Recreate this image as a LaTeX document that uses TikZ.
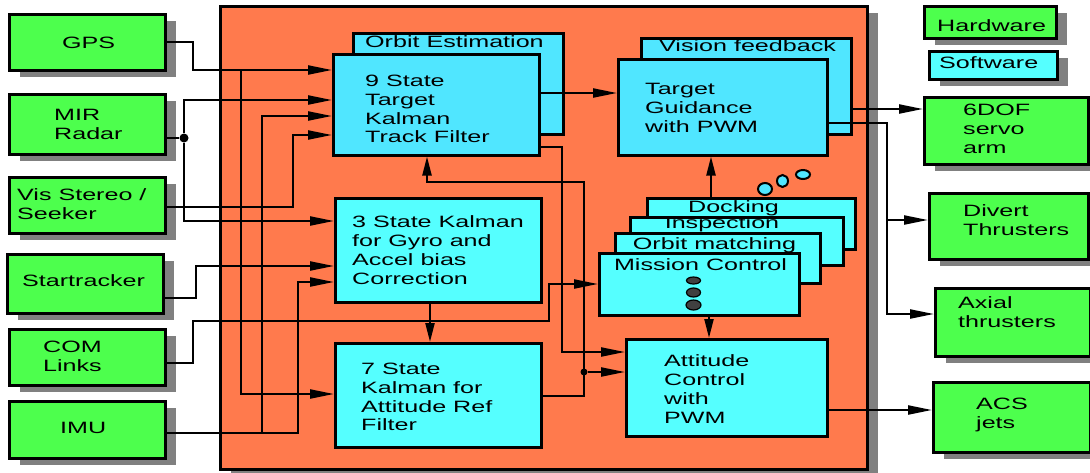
\documentclass[tikz,border=0pt]{standalone}
\usepackage{fontspec}
\setmainfont{Liberation Sans}[FakeStretch=1.53]
\usetikzlibrary{arrows.meta,shadows}
\definecolor{hwgreen}{RGB}{77,255,77}
\definecolor{swcyan}{RGB}{85,255,255}
\definecolor{swblue}{RGB}{80,230,255}
\definecolor{framecol}{RGB}{255,122,77}
\definecolor{shadecol}{RGB}{128,128,128}
\definecolor{dotgray}{RGB}{64,64,64}
\begin{document}
\begin{tikzpicture}[x=1pt,y=-1pt,
  blk/.style={draw=black, line width=2.5pt, inner sep=0pt, anchor=north west},
  dropsh/.style={drop shadow={shadow xshift=11pt, shadow yshift=-7pt, fill=shadecol, opacity=1}},
  hw/.style={blk, fill=hwgreen, dropsh},
  swl/.style={blk, fill=swcyan, dropsh},
  sw/.style={blk, fill=swcyan},
  swb/.style={blk, fill=swblue},
  txt/.style={font=\fontsize{16.4}{18.8}\selectfont, align=left, inner sep=0pt, anchor=west},
  ctxt/.style={txt, anchor=center},
  wire/.style={line width=2.2pt},
  arr/.style={wire, -{Triangle[length=24pt,width=9pt]}},
  arrs/.style={wire, -{Triangle[length=19pt,width=9pt]}},
  jdot/.style={circle, fill=black, inner sep=0pt, minimum size=8pt},
  bubble/.style={draw=black, line width=2pt, fill=swblue},
  pip/.style={draw=black, line width=1.2pt, fill=dotgray}
]
\useasboundingbox (0,0) rectangle (1090,472);
\fill[white] (0,0) rectangle (1090,472);

% on-board processing frame
\node[blk, fill=framecol, dropsh, minimum width=647, minimum height=463] (obc) at (219,5) {};

% sensors
\node[hw, minimum width=156, minimum height=56] (gps) at (8,13) {};
\node[txt] (gpsT) at (62,43) {GPS};
\node[hw, minimum width=156, minimum height=60] (mir) at (8,93) {};
\node[txt] (mirT) at (54,124.5) {MIR\\Radar};
\node[hw, minimum width=156, minimum height=56] (vis) at (8,176) {};
\node[txt] (visT) at (17,204) {Vis Stereo /\\Seeker};
\node[hw, minimum width=156, minimum height=59] (star) at (6,253) {};
\node[txt] (starT) at (22,281) {Startracker};
\node[hw, minimum width=156, minimum height=56] (com) at (8,328) {};
\node[txt] (comT) at (43,356.5) {COM\\Links};
\node[hw, minimum width=156, minimum height=57] (imu) at (8,400) {};
\node[txt] (imuT) at (60,428) {IMU};

% orbit estimation
\node[swb, minimum width=210, minimum height=101] (orbitB) at (352,32) {};
\node[txt] (orbitT) at (365,42) {Orbit Estimation};
\node[swb, minimum width=206, minimum height=101] (k9) at (332,53) {};
\node[txt] (k9T) at (365,109) {9 State\\Target\\Kalman\\Track Filter};

% vision feedback
\node[swb, minimum width=210, minimum height=96] (visfb) at (640,37) {};
\node[txt] (visfbT) at (659,46) {Vision feedback};
\node[swb, minimum width=209, minimum height=96] (tg) at (617,58) {};
\node[txt] (tgT) at (645,108) {Target\\Guidance\\with PWM};

% attitude estimation
\node[sw, minimum width=206, minimum height=104] (k3) at (334,197) {};
\node[txt] (k3T) at (352,250) {3 State Kalman\\for Gyro and\\Accel bias\\Correction};
\node[sw, minimum width=206, minimum height=104] (k7) at (334,342) {};
\node[txt] (k7T) at (361,397) {7 State\\Kalman for\\Attitude Ref\\Filter};

% mission modes, back to front
\node[sw, minimum width=208, minimum height=51] (dock) at (646,197) {};
\node[ctxt] (dockT) at (733.5,208) {Docking};
\node[sw, minimum width=213, minimum height=48] (insp) at (629,216) {};
\node[ctxt] (inspT) at (722,224) {Inspection};
\node[sw, minimum width=205, minimum height=50] (orbm) at (614,232) {};
\node[ctxt] (orbmT) at (714.5,245) {Orbit matching};
\node[sw, minimum width=200, minimum height=62] (mc) at (598,252) {};
\node[ctxt] (mcT) at (700.5,265) {Mission Control};
\draw[pip] (693.5,280.5) ellipse [x radius=7, y radius=3.5];
\draw[pip] (693.5,292.5) ellipse [x radius=7, y radius=4.5];
\draw[pip] (693.5,305) ellipse [x radius=7.5, y radius=5];
\draw[bubble] (765,189) ellipse [x radius=7, y radius=6];
\draw[bubble] (782.5,181) ellipse [x radius=5.5, y radius=6];
\draw[bubble] (803,174.5) ellipse [x radius=7, y radius=4.5];

% attitude control
\node[sw, minimum width=201, minimum height=97] (att) at (625,338) {};
\node[txt] (attT) at (664,389) {Attitude\\Control\\with\\PWM};

% legend
\node[hw, minimum width=132, minimum height=32] (hwL) at (923,5) {};
\node[txt] (hwLT) at (937,26) {Hardware};
\node[swl, minimum width=128, minimum height=28] (swL) at (928,50) {};
\node[txt] (swLT) at (939,63) {Software};

% actuators
\node[hw, minimum width=164, minimum height=67] (dof) at (923,96) {};
\node[txt] (dofT) at (963,129) {6DOF\\servo\\arm};
\node[hw, minimum width=159, minimum height=66] (div) at (928,192) {};
\node[txt] (divT) at (963,220.5) {Divert\\Thrusters};
\node[hw, minimum width=155, minimum height=68] (axi) at (934,287) {};
\node[txt] (axiT) at (958,312) {Axial\\thrusters};
\node[hw, minimum width=157, minimum height=70] (acs) at (932,381) {};
\node[txt] (acsT) at (976,415) {ACS\\jets};

% junctions
\node[jdot, minimum size=9pt] (mirJ) at (184,138) {};
\node[jdot, minimum size=7pt] (k7J) at (584,372) {};

% sensor inputs
\draw[arr] (gps.east) -| (193,70) -- (k9.west |- 0,70);
\draw[arr] (gps.east) -| (193,70) -| (241,394) -- (k7.west |- 0,394);
\draw[wire] (mir.east |- 0,138) -- (mirJ);
\draw[arr] (mirJ) |- (k9.west |- 0,100);
\draw[arr] (mirJ) |- (k3.west |- 0,221);
\draw[arr] (vis.east |- 0,207) -| (293,135) -- (k9.west |- 0,135);
\draw[arr] (imu.east |- 0,433) -| (262,116) -- (k9.west |- 0,116);
\draw[arr] (imu.east |- 0,433) -| (298,282) -- (k3.west |- 0,282);
\draw[arr] (star.east |- 0,298) -| (196,266) -- (k3.west |- 0,266);
\draw[arr] (com.east |- 0,363) -| (193,321) -| (549,284) -- (mc.west |- 0,284);

% internal flow
\draw[arrs] (k3.south -| 430,0) -- (k7.north -| 430,0);
\draw[arrs] (k7.east |- 0,396) -| (584,182) -| (k9.south -| 427,0);
\draw[arr] (k7.east |- 0,396) -| (k7J) -- (att.west |- 0,372);
\draw[arr] (k9.east |- 0,147) -| (562,352) -- (att.west |- 0,352);
\draw[arr] (k9.east |- 0,93) -- (tg.west |- 0,93);
\draw[arrs] (711,0 |- dock.north) -- (711,0 |- tg.south);
\draw[arrs] (709,0 |- mc.south) -- (709,0 |- att.north);

% actuator outputs
\draw[arr] (visfb.east |- 0,109) -- (dof.west |- 0,109);
\draw[arr] (tg.east |- 0,123) -| (887,220) -- (div.west |- 0,220);
\draw[arr] (tg.east |- 0,123) -| (887,314) -- (axi.west |- 0,314);
\draw[arr] (att.east |- 0,410) -- (acs.west |- 0,410);
\end{tikzpicture}
\end{document}
